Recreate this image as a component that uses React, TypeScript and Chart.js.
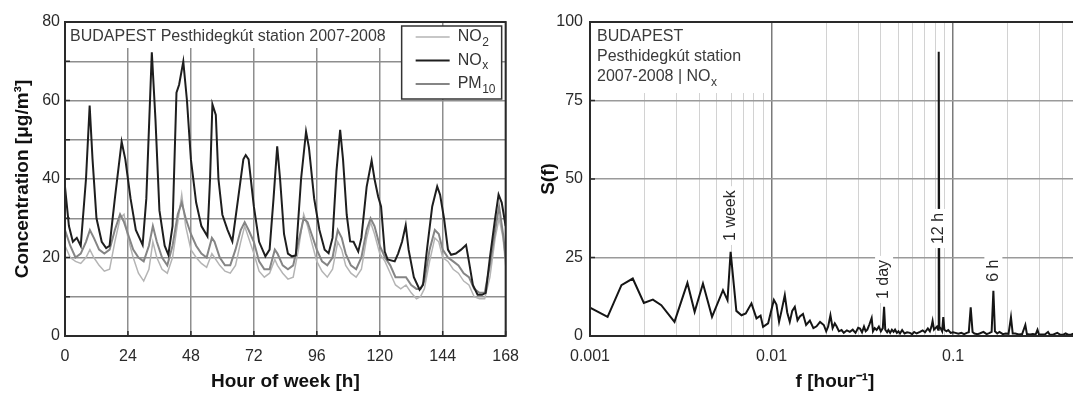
import { useEffect, useRef } from 'react';
import { Chart, registerables } from 'chart.js';

Chart.register(...registerables);

const FONT = '"Liberation Sans", Arial, Helvetica, sans-serif';

// ---------- Left chart: weekly profile ----------
const noxHours = [0, 1.5, 3, 4.5, 6, 8, 9.4, 10.5, 12, 14, 15.7, 17, 19, 21.6, 23, 25, 27, 29.6, 31, 33.1, 34.5, 36, 38, 39.4, 41, 42.5, 43.5, 45.1, 46.5, 48, 50, 52, 54.3, 55.3, 56.2, 57.5, 58.5, 60, 62, 63.8, 66, 68, 68.9, 70, 72, 74, 76.4, 78, 79.5, 80.9, 82, 83.5, 85, 86.5, 88, 90, 91.9, 93, 95, 97, 99, 100.5, 102, 103.5, 104.9, 106, 107.4, 108.7, 110, 111.8, 113, 115, 116.9, 118, 119.4, 120.5, 121.9, 123, 125.7, 127, 128.5, 129.9, 131, 133, 135.2, 136.5, 138, 140, 141.9, 143, 144.5, 146, 147.2, 149, 151, 152.9, 154, 155.5, 157.3, 159, 160.4, 162, 164, 165.3, 166.5, 168];
const noxValues = [38, 28, 24, 25, 23, 40, 58.7, 45, 30, 24, 22.4, 23, 35, 49.5, 45, 35, 27, 23.2, 35, 72.3, 55, 32, 23, 20.7, 28, 62, 64, 69.9, 60, 45, 34, 28, 25.4, 40, 59, 56.3, 40, 30.9, 27, 24.1, 35, 45, 46.1, 45, 33, 24, 20.3, 22, 35, 48.3, 40, 26, 21, 20.3, 20.5, 40, 52.1, 48, 35, 27, 22, 21.1, 25, 42, 52.5, 45, 30.9, 24.1, 24, 21.5, 25, 38, 44.7, 40, 35.5, 33, 21.5, 19.5, 19, 21, 24, 28.2, 22, 15, 11.8, 13, 22, 33, 38.1, 36, 30, 22, 20.7, 21, 22, 23.2, 19, 13, 10.5, 10.5, 11, 20, 30, 36, 34, 28];

const pm10Hours = [0, 2, 4, 6, 8, 9.5, 11, 13, 15, 17, 19, 21, 22.5, 24, 26, 28, 30, 32, 33.5, 35, 37, 39, 41, 43, 44.5, 46, 48, 50, 52, 54, 56, 57, 59, 61, 63, 65, 67, 68.5, 70, 72, 74, 76, 78, 80, 81, 83, 85, 87, 89, 91, 92.5, 94, 96, 98, 100, 102, 104, 105.5, 107, 109, 111, 113, 115, 116.5, 118, 120, 122, 124, 126, 128, 130, 132, 134, 135.5, 137, 139, 141, 142.5, 144, 146, 148, 150, 152, 154, 156, 158, 160, 162, 164, 165.5, 167, 168];
const pm10Values = [27, 23, 20, 21, 24, 27, 25, 22, 21, 22, 27, 31, 29, 26, 22, 20, 19, 23, 28, 24, 20, 18, 23, 31, 34, 30, 26, 23, 21, 20, 25, 24, 20, 18, 18, 22, 27, 29, 27, 24, 19, 17, 17, 22, 21, 18, 17, 18, 24, 30, 29, 26, 22, 19, 18, 20, 27, 25, 21, 18, 17, 20, 27, 30, 28, 23, 20, 18, 15, 15, 15, 13, 12, 12, 14, 22, 27, 26, 22, 20, 19, 18, 16, 15, 12, 11, 11, 18, 27, 33, 26, 20];

const no2Hours = pm10Hours;
const no2Values = [23, 20, 19, 18.5, 20, 22, 20, 18, 16.5, 17, 24, 30, 31, 25, 20, 16, 14, 17, 24, 20, 17, 16, 20, 29, 36, 28, 22, 20, 18.5, 17.5, 21, 20, 18, 16.5, 16, 18, 24, 28, 25, 21, 16.5, 15, 16, 19.5, 18, 16, 14.5, 15, 22, 31, 28, 24, 19, 16.5, 15, 17, 24, 22, 18, 16, 15, 17, 25, 29, 26, 21, 19, 16, 13, 12, 13, 11, 9.5, 10, 12, 19, 25, 24, 20, 19, 17, 16, 14, 13, 10, 9.5, 9.5, 15, 25, 30, 25, 18];

const hourTicks = [0, 24, 48, 72, 96, 120, 144, 168];
const concTickLabels = [0, 20, 40, 60, 80];

// ---------- Right chart: spectrum ----------
const specFreq = [0.001, 0.00125, 0.00149, 0.00172, 0.00198, 0.00222, 0.00247, 0.00292, 0.00344, 0.00377, 0.00419, 0.0047, 0.0054, 0.00572, 0.00595, 0.0064, 0.00683, 0.00721, 0.00775, 0.00826, 0.0087, 0.00898, 0.00957, 0.0099, 0.0103, 0.01064, 0.011, 0.01135, 0.01183, 0.0122, 0.0126, 0.013, 0.01343, 0.0139, 0.01432, 0.0149, 0.0155, 0.01626, 0.017, 0.0177, 0.0185, 0.0194, 0.02, 0.0205, 0.0211, 0.0217, 0.0223, 0.0228, 0.0235, 0.0243, 0.025, 0.026, 0.027, 0.028, 0.029, 0.03, 0.0307, 0.0315, 0.0323, 0.033, 0.0337, 0.0345, 0.0356, 0.0362, 0.037, 0.0379, 0.039, 0.04, 0.041, 0.04167, 0.0423, 0.0433, 0.044, 0.045, 0.046, 0.047, 0.0479, 0.049, 0.05, 0.051, 0.0524, 0.054, 0.0558, 0.0578, 0.0595, 0.061, 0.063, 0.0657, 0.068, 0.07, 0.0726, 0.0745, 0.076, 0.0771, 0.0785, 0.08, 0.0815, 0.0827, 0.08333, 0.084, 0.0852, 0.087, 0.0883, 0.0895, 0.092, 0.094, 0.097, 0.1, 0.103, 0.107, 0.111, 0.115, 0.119, 0.122, 0.125, 0.128, 0.131, 0.136, 0.14, 0.147, 0.153, 0.158, 0.163, 0.16667, 0.17, 0.175, 0.18, 0.188, 0.195, 0.202, 0.20833, 0.213, 0.22, 0.23, 0.24, 0.25, 0.255, 0.265, 0.275, 0.285, 0.29167, 0.297, 0.31, 0.32, 0.33333, 0.34, 0.355, 0.375, 0.39, 0.405, 0.41667, 0.43, 0.445, 0.45833, 0.475, 0.5];
const specPower = [9.0, 6.1, 16.2, 18.3, 10.5, 11.6, 9.8, 4.5, 16.9, 7.7, 16.7, 6.1, 14.6, 11.4, 26.8, 8.0, 6.6, 7.2, 10.4, 5.6, 6.5, 2.9, 4.0, 7.5, 11.5, 10.0, 4.5, 8.0, 13.0, 7.5, 4.5, 8.0, 9.3, 5.0, 6.2, 7.0, 3.5, 4.9, 2.5, 3.1, 4.5, 3.5, 1.5, 3.0, 6.6, 2.5, 4.0, 3.1, 1.5, 1.9, 1.0, 1.8, 1.3, 2.0, 1.0, 2.6, 2.4, 1.2, 3.0, 1.5, 2.0, 3.5, 5.7, 1.5, 2.5, 1.9, 3.0, 1.5, 2.5, 9.3, 2.0, 1.2, 1.9, 1.0, 2.0, 1.3, 2.0, 1.0, 1.5, 0.8, 1.9, 0.8, 1.2, 1.0, 0.6, 1.3, 0.8, 1.3, 1.8, 1.2, 2.4, 1.5, 3.0, 4.8, 2.0, 2.5, 3.0, 2.0, 90.5, 3.0, 2.5, 1.5, 6.0, 2.0, 1.5, 1.9, 1.0, 1.2, 1.0, 0.7, 1.0, 0.6, 1.0, 1.2, 9.1, 1.3, 0.8, 0.6, 0.8, 1.3, 0.6, 0.9, 1.3, 14.4, 1.5, 0.8, 1.3, 0.6, 0.8, 0.7, 6.0, 0.8, 0.8, 0.5, 0.6, 3.5, 0.6, 0.5, 0.6, 0.5, 2.0, 0.5, 0.5, 0.5, 1.3, 0.5, 0.4, 1.0, 0.4, 0.4, 0.8, 0.4, 0.4, 0.7, 0.4, 0.6];

const freqGridValues = [0.001, 0.002, 0.003, 0.004, 0.005, 0.006, 0.007, 0.008, 0.009, 0.01, 0.02, 0.03, 0.04, 0.05, 0.06, 0.07, 0.08, 0.09, 0.1, 0.2, 0.3, 0.4, 0.5];
const freqTickLabels = [0.001, 0.01, 0.1];
const powerTicks = [0, 25, 50, 75, 100];

const annotFreqs = [0.00595, 0.04167, 0.08333, 0.16667];
const annotLabels = ['1 week', '1 day', '12 h', '6 h'];
const annotBase = [29, 10.5, 28, 16];

const TXT = '#2a2a2a';
const GRID = '#8e8e8e';

function drawSub(ctx: CanvasRenderingContext2D, x: number, y: number, main: string, sub: string, size: number) {
  ctx.font = `${size}px ${FONT}`;
  ctx.textBaseline = 'middle';
  ctx.textAlign = 'left';
  ctx.fillText(main, x, y);
  const w = ctx.measureText(main).width;
  ctx.font = `${Math.round(size * 0.72)}px ${FONT}`;
  ctx.fillText(sub, x + w + 0.5, y + size * 0.33);
  ctx.font = `${size}px ${FONT}`;
}

export default function App() {
  const leftRef = useRef<HTMLCanvasElement>(null);
  const rightRef = useRef<HTMLCanvasElement>(null);

  useEffect(() => {
    const leftPlugin = {
      id: 'leftDecor',
      afterDraw(chart: any) {
        const ctx = chart.ctx as CanvasRenderingContext2D;
        const a = chart.chartArea;
        const xs = chart.scales.x;
        const ys = chart.scales.y;
        ctx.save();
        // station text
        ctx.fillStyle = '#fff';
        ctx.fillRect(a.left + 1, a.top + 1, 335, 25);
        ctx.fillStyle = '#3a3a3a';
        ctx.font = `16px ${FONT}`;
        ctx.textBaseline = 'middle';
        ctx.textAlign = 'left';
        ctx.fillText('BUDAPEST Pesthidegkút station 2007-2008', a.left + 5, a.top + 15);
        // legend
        const bx = a.right - 104, by = a.top + 4, bw = 100, bh = 73;
        ctx.fillStyle = '#fff';
        ctx.fillRect(bx, by, bw, bh);
        ctx.strokeStyle = '#333';
        ctx.lineWidth = 1.5;
        ctx.strokeRect(bx, by, bw, bh);
        const entries = [
          { main: 'NO', sub: '2', color: '#b4b4b4', w: 1.5 },
          { main: 'NO', sub: 'x', color: '#1e1e1e', w: 2 },
          { main: 'PM', sub: '10', color: '#858585', w: 2 },
        ];
        entries.forEach((e, i) => {
          const yy = by + 11 + i * 23.5;
          ctx.strokeStyle = e.color;
          ctx.lineWidth = e.w;
          ctx.beginPath();
          ctx.moveTo(bx + 14, yy);
          ctx.lineTo(bx + 48, yy);
          ctx.stroke();
          ctx.fillStyle = '#333';
          drawSub(ctx, bx + 56, yy, e.main, e.sub, 16);
        });
        // inward tick marks
        ctx.strokeStyle = '#2a2a2a';
        ctx.lineWidth = 1.5;
        ctx.beginPath();
        ys.ticks.forEach((t: any) => {
          const y = ys.getPixelForValue(t.value);
          ctx.moveTo(a.left, y);
          ctx.lineTo(a.left + 5, y);
        });
        xs.ticks.forEach((t: any) => {
          const x = xs.getPixelForValue(t.value);
          ctx.moveTo(x, a.bottom);
          ctx.lineTo(x, a.bottom - 5);
        });
        ctx.stroke();
        // plot border
        ctx.lineWidth = 2;
        ctx.strokeRect(a.left, a.top, a.right - a.left, a.bottom - a.top);
        ctx.restore();
      },
    };

    const rightPlugin = {
      id: 'rightDecor',
      afterDraw(chart: any) {
        const ctx = chart.ctx as CanvasRenderingContext2D;
        const a = chart.chartArea;
        const xs = chart.scales.x;
        const ys = chart.scales.y;
        ctx.save();
        ctx.fillStyle = '#fff';
        ctx.fillRect(a.left + 1, a.top + 1, 176, 70);
        ctx.fillStyle = '#3a3a3a';
        ctx.font = `16px ${FONT}`;
        ctx.textBaseline = 'middle';
        ctx.textAlign = 'left';
        ctx.fillText('BUDAPEST', a.left + 7, a.top + 15);
        ctx.fillText('Pesthidegkút station', a.left + 7, a.top + 35);
        ctx.fillText('2007-2008 | ', a.left + 7, a.top + 55);
        const w0 = ctx.measureText('2007-2008 | ').width;
        drawSub(ctx, a.left + 7 + w0, a.top + 55, 'NO', 'x', 16);
        // annotations
        ctx.font = `16px ${FONT}`;
        annotLabels.forEach((label, i) => {
          const x = xs.getPixelForValue(annotFreqs[i]);
          const y = ys.getPixelForValue(annotBase[i]);
          const tw = ctx.measureText(label).width;
          ctx.fillStyle = '#fff';
          ctx.fillRect(x - 9, y - tw - 8, 18, tw + 8);
          ctx.save();
          ctx.translate(x, y - 4);
          ctx.rotate(-Math.PI / 2);
          ctx.fillStyle = '#2a2a2a';
          ctx.textAlign = 'left';
          ctx.textBaseline = 'middle';
          ctx.fillText(label, 0, 0);
          ctx.restore();
        });
        // inward ticks on y axis
        ctx.strokeStyle = '#2a2a2a';
        ctx.lineWidth = 1.5;
        ctx.beginPath();
        ys.ticks.forEach((t: any) => {
          const y = ys.getPixelForValue(t.value);
          ctx.moveTo(a.left, y);
          ctx.lineTo(a.left + 5, y);
        });
        ctx.stroke();
        // border
        ctx.lineWidth = 2;
        ctx.strokeRect(a.left, a.top, a.right - a.left, a.bottom - a.top);
        ctx.restore();
      },
    };

    const tickFont = { family: FONT, size: 16 };
    const titleFont = { family: FONT, size: 19, weight: 'bold' as const };

    const left = new Chart(leftRef.current!, {
      type: 'line',
      data: {
        datasets: [
          {
            label: 'NOx',
            data: noxHours.map((h, i) => ({ x: h, y: noxValues[i] })),
            borderColor: '#1e1e1e',
            borderWidth: 2,
            pointRadius: 0,
            tension: 0,
          },
          {
            label: 'PM10',
            data: pm10Hours.map((h, i) => ({ x: h, y: pm10Values[i] })),
            borderColor: '#858585',
            borderWidth: 2,
            pointRadius: 0,
            tension: 0,
          },
          {
            label: 'NO2',
            data: no2Hours.map((h, i) => ({ x: h, y: no2Values[i] })),
            borderColor: '#b4b4b4',
            borderWidth: 1.5,
            pointRadius: 0,
            tension: 0,
          },
        ],
      },
      options: {
        animation: false,
        responsive: false,
        layout: { padding: { top: 22, right: 22, left: 0, bottom: 0 } },
        plugins: { legend: { display: false }, tooltip: { enabled: false } },
        scales: {
          x: {
            type: 'linear',
            min: 0,
            max: 168,
            afterBuildTicks: (s: any) => {
              s.ticks = hourTicks.map((v) => ({ value: v }));
            },
            ticks: { font: tickFont, color: TXT, padding: 11, autoSkip: false, maxRotation: 0 },
            grid: { color: GRID, lineWidth: 1.5, drawTicks: false },
            border: { display: false },
            title: { display: true, text: 'Hour of week [h]', font: titleFont, color: '#111', padding: { top: 0, bottom: 3 } },
            afterFit: (s: any) => {
              s.height = 60;
            },
          },
          y: {
            min: 0,
            max: 80,
            ticks: {
              stepSize: 10,
              font: tickFont,
              color: TXT,
              padding: 5,
              callback: (v: any) => (concTickLabels.includes(Number(v)) ? String(v) : ''),
            },
            grid: { color: GRID, lineWidth: 1.5, drawTicks: false },
            border: { display: false },
            title: { display: true, text: 'Concentration [μg/m³]', font: titleFont, color: '#111', padding: { top: 11, bottom: 0 } },
            afterFit: (s: any) => {
              s.width = 65;
            },
          },
        },
      },
      plugins: [leftPlugin],
    } as any);

    const right = new Chart(rightRef.current!, {
      type: 'line',
      data: {
        datasets: [
          {
            label: 'S(f)',
            data: specFreq.map((f, i) => ({ x: f, y: specPower[i] })),
            borderColor: '#151515',
            borderWidth: 2,
            pointRadius: 0,
            tension: 0,
          },
        ],
      },
      options: {
        animation: false,
        responsive: false,
        layout: { padding: { top: 22, right: 15, left: 0, bottom: 0 } },
        plugins: { legend: { display: false }, tooltip: { enabled: false } },
        scales: {
          x: {
            type: 'logarithmic',
            min: 0.001,
            max: 0.5,
            afterBuildTicks: (s: any) => {
              s.ticks = freqGridValues.map((v) => ({ value: v }));
            },
            ticks: {
              font: tickFont,
              color: TXT,
              padding: 11,
              autoSkip: false,
              maxRotation: 0,
              callback: (v: any) => (freqTickLabels.includes(Number(v)) ? String(v) : ''),
            },
            grid: {
              color: (c: any) => (freqTickLabels.includes(c.tick?.value) ? '#7a7a7a' : '#d2d2d2'),
              lineWidth: (c: any) => (freqTickLabels.includes(c.tick?.value) ? 1.5 : 1),
              drawTicks: false,
            },
            border: { display: false },
            title: { display: true, text: 'f [hour⁻¹]', font: titleFont, color: '#111', padding: { top: 0, bottom: 3 } },
            afterFit: (s: any) => {
              s.height = 60;
            },
          },
          y: {
            min: 0,
            max: 100,
            afterBuildTicks: (s: any) => {
              s.ticks = powerTicks.map((v) => ({ value: v }));
            },
            ticks: { font: tickFont, color: TXT, padding: 7 },
            grid: { color: '#9a9a9a', lineWidth: 1.5, drawTicks: false },
            border: { display: false },
            title: { display: true, text: 'S(f)', font: titleFont, color: '#111', padding: { top: 2, bottom: 0 } },
            afterFit: (s: any) => {
              s.width = 55;
            },
          },
        },
      },
      plugins: [rightPlugin],
    } as any);

    return () => {
      left.destroy();
      right.destroy();
    };
  }, []);

  return (
    <div
      style={{
        position: 'fixed',
        left: 0,
        top: 0,
        width: 1073,
        height: 396,
        overflow: 'hidden',
        background: '#fff',
      }}
    >
      <canvas ref={leftRef} width={530} height={396} style={{ position: 'absolute', left: 0, top: 0, width: 530, height: 396 }} />
      <canvas ref={rightRef} width={560} height={396} style={{ position: 'absolute', left: 535, top: 0, width: 560, height: 396 }} />
    </div>
  );
}
